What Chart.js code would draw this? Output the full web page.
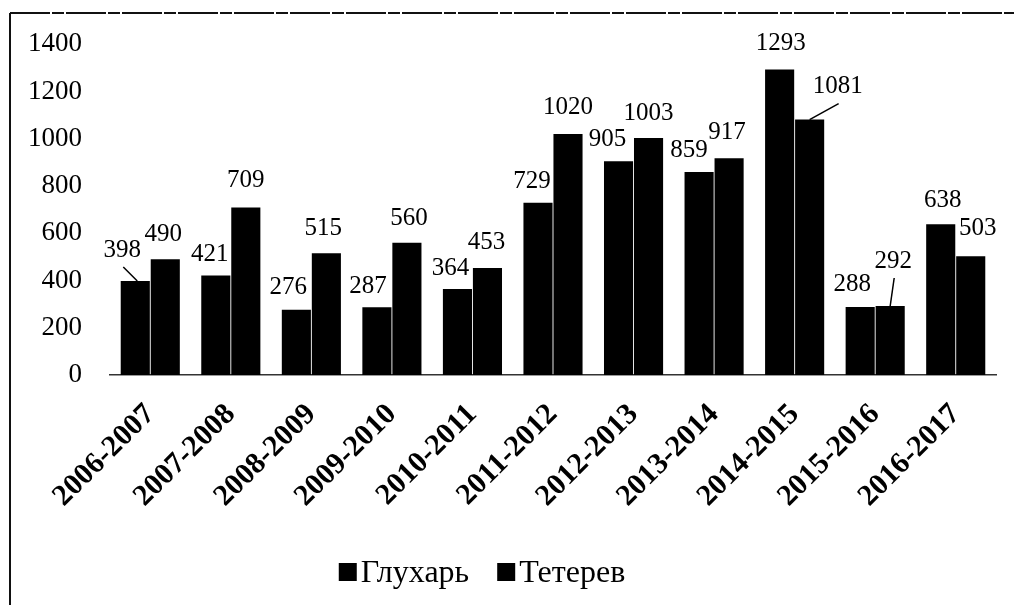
<!DOCTYPE html>
<html><head><meta charset="utf-8">
<script src="https://cdn.jsdelivr.net/npm/chart.js@4.4.0/dist/chart.umd.min.js"></script>
<style>html,body{margin:0;padding:0;background:#fff}#wrap{width:1014px;height:605px;position:relative}</style>
</head><body><div id="wrap"><canvas id="c" width="1014" height="605"></canvas></div>
<script>
const categories = ['2006-2007','2007-2008','2008-2009','2009-2010','2010-2011','2011-2012','2012-2013','2013-2014','2014-2015','2015-2016','2016-2017'];
const seriesNames = ['Глухарь','Тетерев'];
const glukhar = [398,421,276,287,364,729,905,859,1293,288,638];
const teterev = [490,709,515,560,453,1020,1003,917,1081,292,503];
const yTicks = [0,200,400,600,800,1000,1200,1400];

// label nudges (dx, dy in px) from the bar top, and which labels get a leader line
const nudgeG = [[-13,-31],[-6,-21],[-8,-22],[-9,-21],[-7,-21],[-6,-21],[-11,-22],[-10,-22],[1,-26],[-8,-23],[2,-24]];
const nudgeT = [[-2,-25],[0,-27],[-3,-25],[2,-24],[-1,-26],[0,-27],[0,-25],[-2,-26],[28,-33],[3,-45],[7,-28]];
const leaderG = [0];
const leaderT = [8,9];

const FONT = "'Liberation Serif','Times New Roman',serif";

const framePlugin = {
  id:'frame',
  beforeDraw(chart){
    const c = chart.ctx; c.save();
    c.fillStyle='#fff'; c.fillRect(0,0,chart.width,chart.height);
    c.strokeStyle='#111'; c.lineWidth=2;
    c.beginPath(); c.moveTo(10,13); c.lineTo(10,chart.height); c.stroke();
    c.setLineDash([40,2,12,2]);
    c.beginPath(); c.moveTo(10,13); c.lineTo(chart.width,13); c.stroke();
    c.restore();
  }
};

const labelPlugin = {
  id:'valueLabels',
  afterDatasetsDraw(chart){
    const c = chart.ctx; c.save();
    c.font = `25px ${FONT}`; c.fillStyle='#000'; c.textAlign='center'; c.textBaseline='middle';
    c.strokeStyle='#000'; c.lineWidth=1.5;
    const nudges=[nudgeG,nudgeT], leaders=[leaderG,leaderT];
    chart.data.datasets.forEach((ds,di)=>{
      chart.getDatasetMeta(di).data.forEach((el,i)=>{
        const [dx,dy]=nudges[di][i];
        const tx=el.x+dx, ty=el.y+dy;
        c.fillText(String(ds.data[i]), tx, ty);
        if (leaders[di].includes(i)) {
          c.beginPath(); c.moveTo(tx+1, ty+17); c.lineTo(el.x+(di===0?2:0), el.y); c.stroke();
        }
      });
    });
    c.restore();
  }
};

const legendPlugin = {
  id:'legendCustom',
  afterDraw(chart){
    const c = chart.ctx; c.save();
    c.font = `32px ${FONT}`; c.textBaseline='middle'; c.fillStyle='#000';
    const items = chart.data.datasets.map(d=>d.label);
    const box=18, gap=4, itemGap=28;
    const widths = items.map(t=>box+gap+c.measureText(t).width);
    const total = widths.reduce((a,b)=>a+b,0)+itemGap*(items.length-1);
    let x = chart.width/2 - 25 - total/2; const y = 572;
    items.forEach((t,i)=>{
      c.fillStyle = chart.data.datasets[i].backgroundColor;
      c.fillRect(x, y-box/2, box, box);
      c.fillStyle='#000';
      c.fillText(t, x+box+gap, y+2);
      x += widths[i]+itemGap;
    });
    c.restore();
  }
};

new Chart(document.getElementById('c'), {
  type:'bar',
  data:{
    labels:categories,
    datasets:[
      {label:seriesNames[0], data:glukhar, backgroundColor:'#000', borderWidth:0},
      {label:seriesNames[1], data:teterev, backgroundColor:'#000', borderWidth:0}
    ]
  },
  options:{
    responsive:false, animation:false, devicePixelRatio:1,
    layout:{padding:{top:43,left:10,right:18,bottom:0}},
    datasets:{bar:{categoryPercentage:0.745, barPercentage:0.97}},
    plugins:{legend:{display:false}, tooltip:{enabled:false}},
    scales:{
      x:{
        grid:{display:false, drawTicks:false},
        border:{display:true, color:'#333', width:1.5, dash:[10,3]},
        ticks:{font:{family:FONT,size:30,weight:'bold'}, color:'#000', minRotation:45, maxRotation:45, padding:22, autoSkip:false},
        afterFit(s){ s.height = 230; }
      },
      y:{
        min:0, max:1400,
        grid:{display:false, drawTicks:false}, border:{display:false},
        ticks:{font:{family:FONT,size:27}, color:'#000', padding:28, callback:(v)=>String(v)},
        afterBuildTicks(s){ s.ticks = yTicks.map(v=>({value:v})); },
        afterFit(s){ s.width = 100; }
      }
    }
  },
  plugins:[framePlugin, labelPlugin, legendPlugin]
});
</script>
</body></html>
